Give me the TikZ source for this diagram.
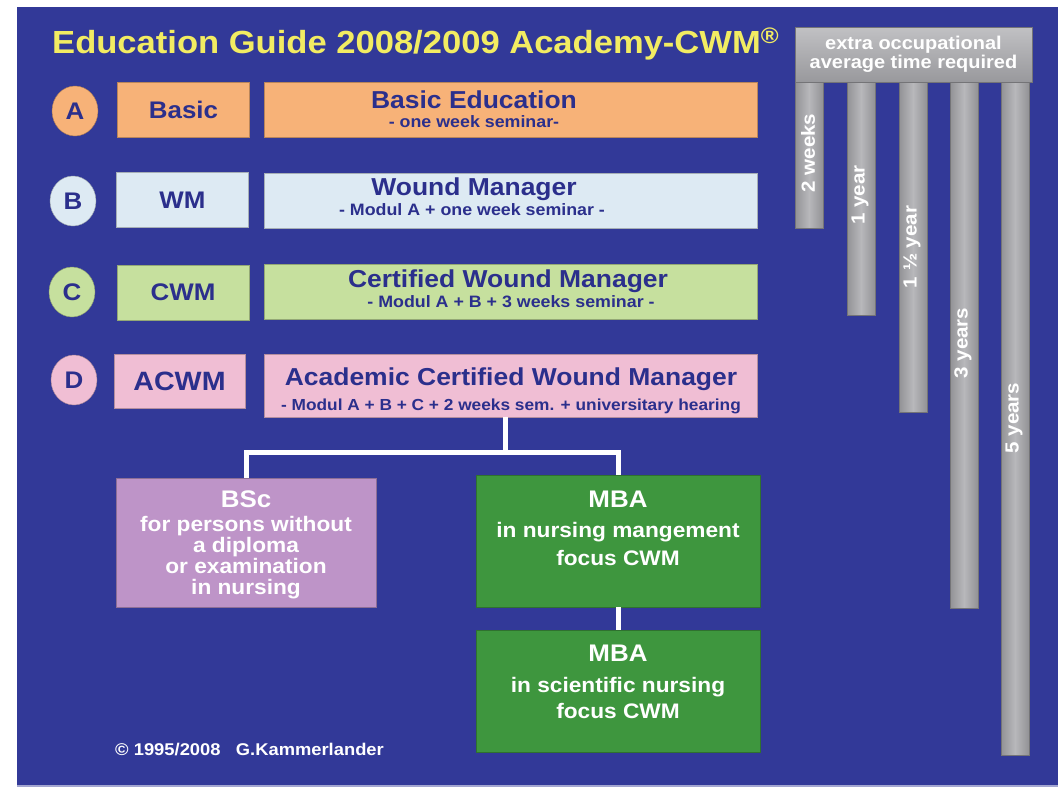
\documentclass[tikz,border=0pt]{standalone}
\usepackage{fontspec}
\setmainfont{Liberation Sans}[FakeStretch=1.08]
\usetikzlibrary{positioning,shapes.geometric}

\definecolor{bgblue}{RGB}{50,57,152}
\definecolor{darkblue}{RGB}{43,47,140}
\definecolor{titleyellow}{RGB}{242,236,98}
\definecolor{orangebox}{RGB}{247,178,120}
\definecolor{lightblue}{RGB}{221,234,243}
\definecolor{lightgreen}{RGB}{198,224,158}
\definecolor{pinkbox}{RGB}{240,190,212}
\definecolor{lilac}{RGB}{190,148,200}
\definecolor{darkgreen}{RGB}{62,150,62}
\definecolor{bargrey}{RGB}{166,166,170}

\begin{document}
\begin{tikzpicture}
                [x=1pt,y=-1pt,
                badge/.style={ellipse,draw=#1!70!black,fill=#1,minimum width=46pt,minimum height=50pt,inner sep=0pt,text=darkblue,font=\fontsize{24}{24}\selectfont\bfseries},
                stagebox/.style={rectangle,draw=#1!75!black,fill=#1,minimum height=55pt,inner sep=0pt,text=darkblue},
                shortbox/.style={stagebox=#1,minimum width=132pt,font=\fontsize{24}{24}\selectfont\bfseries},
                longbox/.style={stagebox=#1,minimum width=493pt},
                headline/.style={anchor=base,inner sep=0pt,text=darkblue,font=\fontsize{24.5}{24.5}\selectfont\bfseries},
                subline/.style={anchor=base,inner sep=0pt,text=darkblue,font=\fontsize{16.5}{16.5}\selectfont\bfseries},
                degree/.style={rectangle,draw=#1!75!black,fill=#1,inner sep=0pt},
                degtext/.style={anchor=north,align=center,inner sep=0pt,text=white},
                bar/.style={rectangle,anchor=north,minimum width=28pt,inner sep=0pt,draw=bargrey!70!black,left color=bargrey!88!black,right color=bargrey!88!black,middle color=bargrey!80!white},
                barlabel/.style={rotate=90,inner sep=0pt,text=white,font=\fontsize{19}{19}\selectfont\bfseries},
                edge/.style={draw=white,line width=5pt}
                ]
            \useasboundingbox (0,0) rectangle (1058,790);
            \fill[white] (0,0) rectangle (1058,790);
            \fill[bgblue] (17,7) rectangle (1058,785);
            \draw[bgblue!45!white,line width=1.5pt] (17,786) -- (1058,786);

            % title
            \node[anchor=base west,inner sep=0pt,text=titleyellow,font=\fontsize{32}{32}\selectfont\bfseries] (title) at (52,53) {Education Guide 2008/2009 Academy-CWM\textsuperscript{®}};

            % levels A - D
            \node[badge=orangebox] (a) at (75,111) {A};
            \node[badge=lightblue] (b) at (73,201) {B};
            \node[badge=lightgreen] (c) at (72,292) {C};
            \node[badge=pinkbox] (d) at (74,380) {D};

            \node[shortbox=orangebox] (basic) at (183.5,110) {Basic};
            \node[shortbox=lightblue] (wm) at (182.5,200) {WM};
            \node[shortbox=lightgreen] (cwm) at (183,292.5) {CWM};
            \node[shortbox=pinkbox,minimum width=131pt,minimum height=54pt,font=\fontsize{26.5}{26.5}\selectfont\bfseries] (acwm) at (179.5,381.5) {ACWM};

            \node[longbox=orangebox] (basicedu) at (510.5,110) {};
            \node[headline] (t1) at (474,108) {Basic Education};
            \node[subline] (s1) at (474,127) {- one week seminar-};

            \node[longbox=lightblue] (woundman) at (510.5,200.5) {};
            \node[headline] (t2) at (474,195) {Wound Manager};
            \node[subline] (s2) at (472,215) {- Modul A + one week seminar -};

            \node[longbox=lightgreen] (certwm) at (510.5,292) {};
            \node[headline] (t3) at (508,287) {Certified Wound Manager};
            \node[subline] (s3) at (511,307) {- Modul A + B + 3 weeks seminar -};

            \node[longbox=pinkbox,minimum height=63pt] (acadcwm) at (510.5,385.5) {};
            \node[headline] (t4) at (511,385) {Academic Certified Wound Manager};
            \node[subline,font=\fontsize{16}{16}\selectfont\bfseries] (s4) at (511,410) {- Modul A + B + C + 2 weeks sem. + universitary hearing};

            % degrees
            \node[degree=lilac,minimum width=260pt,minimum height=129pt] (bsc) at (246,542.5) {};
            \node[degtext,font=\fontsize{21}{21}\selectfont\bfseries] (bsct) at (246,491) {{\fontsize{24}{24}\selectfont BSc}\\[3pt]for persons without\\a diploma\\or examination\\in nursing};
            \node[degree=darkgreen,minimum width=284pt,minimum height=132pt] (mba1) at (618,541) {};
            \node[degtext,font=\fontsize{21}{28}\selectfont\bfseries] (mba1t) at (618,491) {{\fontsize{24}{24}\selectfont MBA}\\[2pt]in nursing mangement\\focus CWM};
            \node[degree=darkgreen,minimum width=284pt,minimum height=122pt] (mba2) at (618,691) {};
            \node[degtext,font=\fontsize{21}{26}\selectfont\bfseries] (mba2t) at (618,645) {{\fontsize{24}{24}\selectfont MBA}\\[5pt]in scientific nursing\\focus CWM};

            \coordinate (split) at (505,452);
            \draw[edge] (acadcwm.south -| split) -- (split);
            \draw[edge] (bsc.north) |- (split) -| (mba1.north);
            \draw[edge] (mba1.south) -- (mba2.north);

            % time bars
            \node[bar,minimum height=146pt] (bar1) at (809,82) {};
            \node[bar,minimum height=233pt] (bar2) at (861,82) {};
            \node[bar,minimum height=330pt] (bar3) at (913,82) {};
            \node[bar,minimum height=526pt] (bar4) at (964,82) {};
            \node[bar,minimum height=673pt] (bar5) at (1015,82) {};
            \node[rectangle,minimum width=237pt,minimum height=55pt,inner sep=0pt,draw=bargrey!70!black,top color=bargrey!70!white,bottom color=bargrey!92!black,align=center,text=white,font=\fontsize{18.5}{18.5}\selectfont\bfseries] (header) at (913.5,54.5) {extra occupational\\average time required};

            \node[barlabel] (lab1) at (808,153) {2 weeks};
            \node[barlabel] (lab2) at (860,195) {1 year};
            \node[barlabel] (lab3) at (912,247) {1 ½ year};
            \node[barlabel] (lab4) at (963,343) {3 years};
            \node[barlabel] (lab5) at (1014,418) {5 years};

            \node[anchor=base west,inner sep=0pt,text=white,font=\fontsize{17}{17}\selectfont\bfseries] (copy) at (115,755) {© 1995/2008\ \ \ G.Kammerlander};
            \end{tikzpicture}
\end{document}
